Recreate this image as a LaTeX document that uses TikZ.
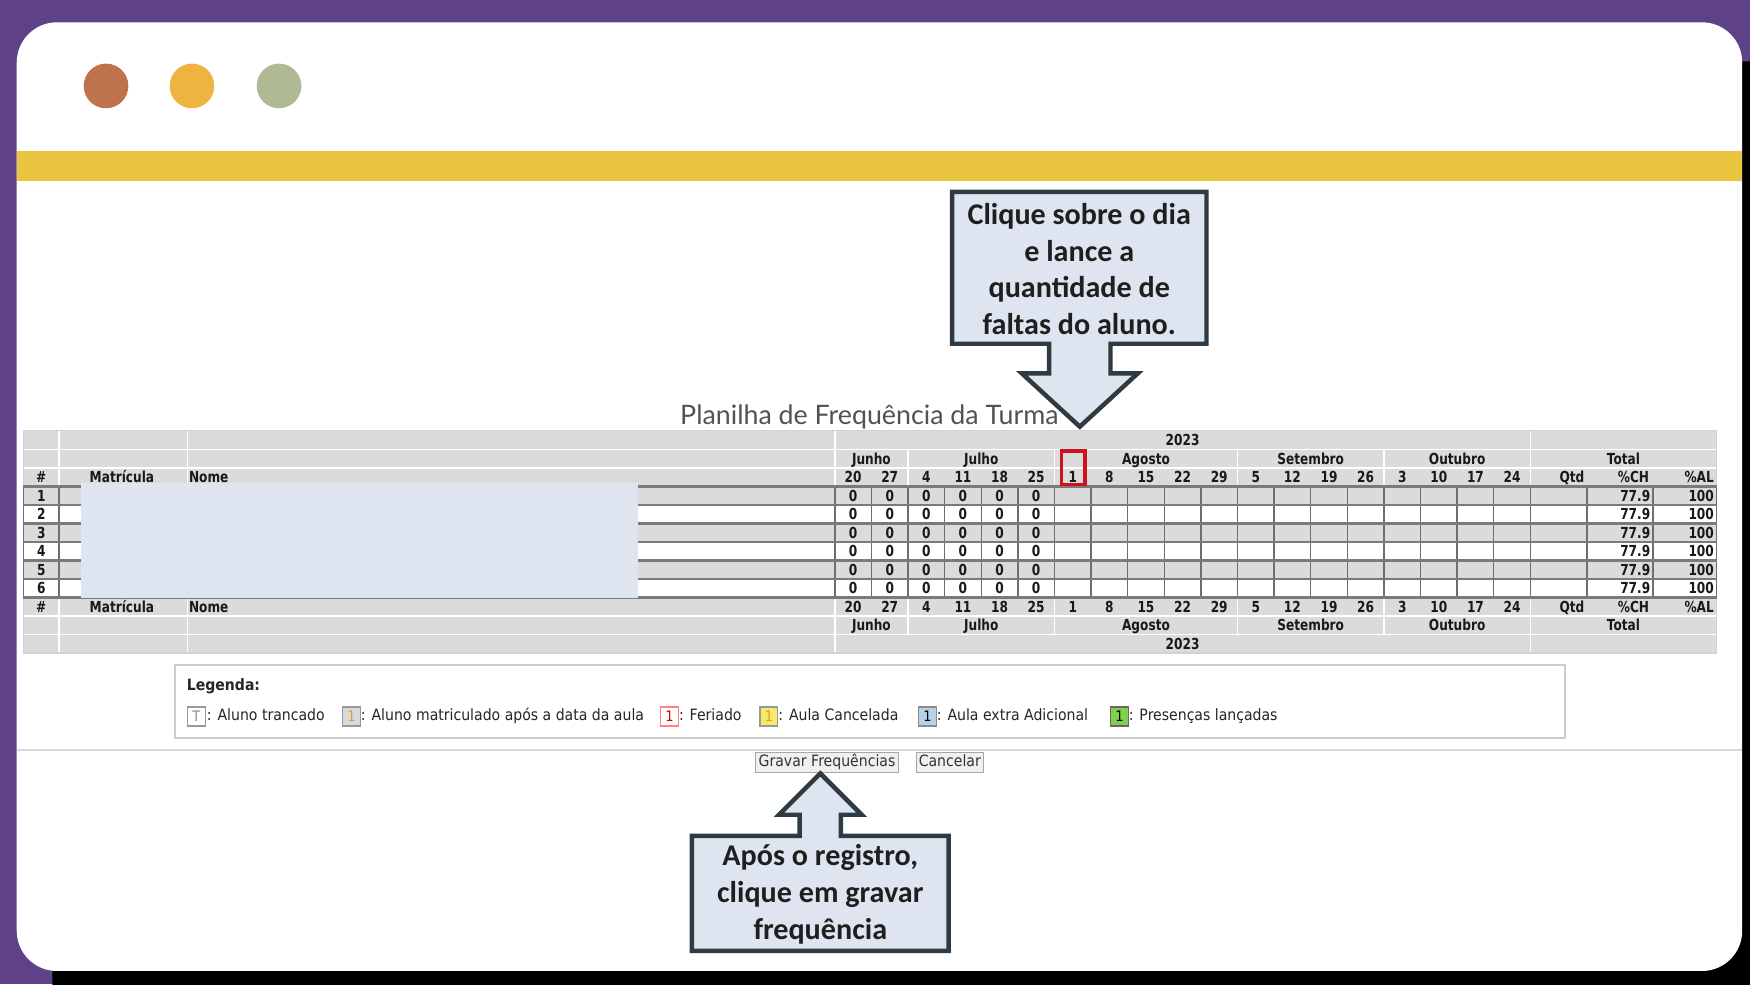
\documentclass[tikz,border=0pt]{standalone}
\usepackage{fontspec}
\setmainfont{Carlito}
\newfontfamily\tblfont[FakeStretch=0.8]{DejaVu Sans}
\newfontfamily\legfont[FakeStretch=0.9]{DejaVu Sans}
\newfontfamily\ttlfont{Lato}
\definecolor{purp}{HTML}{5E4189}
\definecolor{yel}{HTML}{EAC640}
\definecolor{dotA}{HTML}{BF734C}
\definecolor{dotB}{HTML}{EDB540}
\definecolor{dotC}{HTML}{AFBA95}
\definecolor{hdr}{HTML}{DBDBDB}
\definecolor{callfill}{HTML}{DFE5F0}
\definecolor{callline}{HTML}{2E3B42}
\definecolor{gridc}{HTML}{6E6E6E}
\definecolor{rowline}{HTML}{7A7A7A}
\definecolor{hlred}{HTML}{D0101A}
\definecolor{lgblue}{HTML}{B5D3E8}
\definecolor{lggreen}{HTML}{7FD04A}
\definecolor{lgyellow}{HTML}{F6EA6A}
\definecolor{lgorange}{HTML}{E89A2C}
\begin{document}
\begin{tikzpicture}[x=0.5pt,y=-0.5pt,
  dot/.style={circle, minimum size=20pt, inner sep=0pt},
  hd/.style={font=\tblfont\bfseries\fontsize{6.8}{8}\selectfont, inner sep=0pt, text height=5pt, text depth=0pt, text=black!90},
  lg/.style={font=\legfont\fontsize{7}{8}\selectfont, inner sep=0pt, text height=5pt, text depth=1.3pt, anchor=west, text=black!85},
  lgbox/.style={draw=#1, line width=0.5pt, minimum width=8pt, minimum height=8.5pt, inner sep=0pt, font=\legfont\fontsize{6.5}{7}\selectfont},
  btn/.style={draw=black!35, fill=black!6, line width=0.5pt, inner sep=0pt, minimum height=9pt, text height=5.2pt, text depth=1.4pt, font=\legfont\fontsize{7}{8}\selectfont, text=black!80},
  callout/.style={fill=callfill, draw=callline, line width=2pt, line join=miter},
  calltext/.style={font=\bfseries\fontsize{13.5}{16.5}\selectfont, align=center, text=black!88, inner sep=0pt},
  faint/.style={draw=white, line width=0.6pt}
]
\useasboundingbox (0,0) rectangle (1568,882);
\clip (0,0) rectangle (1568,882);
% frame
\fill[purp] (0,0) rectangle (1568,882);
\fill[black, rounded corners=20pt] (47,55) rectangle (1620,930);
\fill[white, rounded corners=18pt] (15,20) rectangle (1561,870);
\fill[yel] (15,135) rectangle (1561,162);
\node[dot, fill=dotA] (dotA) at (95,77) {};
\node[dot, fill=dotB] (dotB) at (172,77) {};
\node[dot, fill=dotC] (dotC) at (250,77) {};

% title
\node[font=\ttlfont\fontsize{12}{14}\selectfont, text=black!68, inner sep=0pt] (title) at (779,374) {Planilha de Frequência da Turma};

% table backgrounds
\fill[hdr] (21,386) rectangle (1538,585.2);
\foreach \r in {452.4,485.6,518.8} \fill[white] (21,\r) rectangle (1538,\r+16.6);
% faint header lines
\foreach \r in {402.6,419.2,552,568.6} \draw[faint] (21,\r) -- (1538,\r);
\foreach \c in {53,168,748,1371.2} {
  \draw[faint] (\c,386) -- (\c,435.8);
  \draw[faint] (\c,535.4) -- (\c,585.2);
}
\foreach \c in {813.6,944.8,1108.8,1240} {
  \draw[faint] (\c,402.6) -- (\c,435.8);
  \draw[faint] (\c,535.4) -- (\c,568.6);
}
\draw[draw=black!18, line width=0.6pt] (21,386) rectangle (1538,585.2);
% data grid
\foreach \i in {0,...,19} \draw[gridc, line width=0.6pt] ({748+32.8*\i},435.8) -- ({748+32.8*\i},535.4);
\foreach \c in {21,53,748,1422,1481,1538} \draw[gridc, line width=0.6pt] (\c,435.8) -- (\c,535.4);
\foreach \k in {0,...,6} \draw[rowline, line width=1.1pt] (21,{435.8+16.6*\k}) -- (1538,{435.8+16.6*\k});

% header texts
\node[hd] (yearT) at (1059.6,394.3) {2023};
\node[hd] (yearB) at (1059.6,576.9) {2023};
\foreach \m/\x [count=\j] in {Junho/780.8,Julho/879.2,Agosto/1026.8,Setembro/1174.4,Outubro/1305.6,Total/1454.6} {
  \node[hd] (mT\j) at (\x,410.9) {\m};
  \node[hd] (mB\j) at (\x,560.3) {\m};
}
\foreach \d [count=\i from 0] in {20,27,4,11,18,25,1,8,15,22,29,5,12,19,26,3,10,17,24} {
  \node[hd] (dT\i) at ({748+32.8*(\i+0.5)},427.5) {\d};
  \node[hd] (dB\i) at ({748+32.8*(\i+0.5)},543.7) {\d};
}
\foreach \y/\p in {427.5/T,543.7/B} {
  \node[hd] (hash\p) at (37,\y) {\#};
  \node[hd, anchor=west] (mat\p) at (80,\y) {Matrícula};
  \node[hd, anchor=west] (nome\p) at (169,\y) {Nome};
  \node[hd, anchor=east] (qtd\p) at (1420,\y) {Qtd};
  \node[hd, anchor=east] (ch\p) at (1478,\y) {\%CH};
  \node[hd, anchor=east] (al\p) at (1536,\y) {\%AL};
}
% data rows
\foreach \rr in {1,...,6} {
  \pgfmathsetmacro{\yy}{435.8+16.6*(\rr-0.5)}
  \node[hd] (num\rr) at (37,\yy) {\rr};
  \foreach \i in {0,...,5} \node[hd] (z\rr-\i) at ({748+32.8*(\i+0.5)},\yy) {0};
  \node[hd, anchor=east] (pch\rr) at (1479,\yy) {77.9};
  \node[hd, anchor=east] (pal\rr) at (1536,\yy) {100};
}
% hidden names block
\fill[callfill] (73,433) rectangle (572,536);
% highlighted day
\node[draw=hlred, line width=1.5pt, minimum width=10.5pt, minimum height=15pt, inner sep=0pt] (hl) at (961.5,419) {};

% legend
\draw[draw=black!20, line width=0.8pt, fill=white] (157,596) rectangle (1402,661);
\node[lg, font=\legfont\bfseries\fontsize{7}{8}\selectfont] (legT) at (167,615) {Legenda:};
\node[lgbox=black!40, fill=white, text=black!45] (b1) at (176,642) {T};
\node[lg] (t1) at (185,642) {: Aluno trancado};
\node[lgbox=black!40, fill=black!15, text=lgorange] (b2) at (315,642) {1};
\node[lg] (t2) at (323,642) {: Aluno matriculado após a data da aula};
\node[lgbox=red!50, fill=white, text=red!85!black] (b3) at (600,642) {1};
\node[lg] (t3) at (608,642) {: Feriado};
\node[lgbox=black!40, fill=lgyellow, text=lgorange] (b4) at (689,642) {1};
\node[lg] (t4) at (697,642) {: Aula Cancelada};
\node[lgbox=black!45, fill=lgblue, text=black] (b5) at (831,642) {1};
\node[lg] (t5) at (839,642) {: Aula extra Adicional};
\node[lgbox=black!60, fill=lggreen, text=black] (b6) at (1003,642) {1};
\node[lg] (t6) at (1011,642) {: Presenças lançadas};
\draw[black!15, line width=0.8pt] (15,672) -- (1561,672);

% buttons
\node[btn, minimum width=64pt] (gravar) at (741,683) {Gravar Frequências};
\node[btn, minimum width=30pt] (cancelar) at (851,683) {Cancelar};

% callout top
\draw[callout] (853,172) -- (1081,172) -- (1081,308) -- (995,308) -- (995,334.5) -- (1019.5,334.5)
  -- (967.5,382.3) -- (915.5,334.5) -- (940,334.5) -- (940,308) -- (853,308) -- cycle;
\node[calltext] (txtA) at (967,241) {Clique sobre o dia\\e lance a\\quantidade de\\faltas do aluno.};
% callout bottom
\draw[callout] (620,749) -- (716.5,749) -- (716.5,730) -- (698,730) -- (735,693) -- (772,730)
  -- (753.5,730) -- (753.5,749) -- (850,749) -- (850,852) -- (620,852) -- cycle;
\node[calltext] (txtB) at (735,801) {Após o registro,\\clique em gravar\\frequência};
\end{tikzpicture}
\end{document}
